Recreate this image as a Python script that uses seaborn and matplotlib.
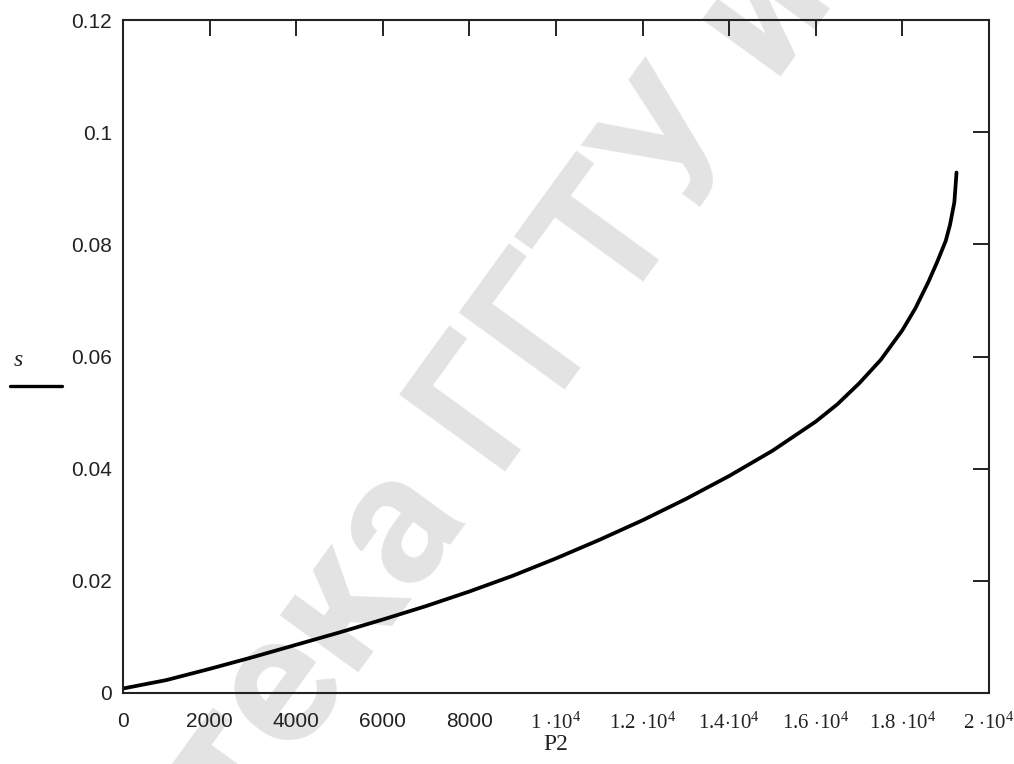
import matplotlib
matplotlib.use("Agg")
import numpy as np
import matplotlib.pyplot as plt
import seaborn as sns
import pandas as pd
from matplotlib.lines import Line2D
from matplotlib.font_manager import FontProperties

# ---- data ----
P2 = [0, 1000, 2000, 3000, 4000, 5000, 6000, 7000, 8000, 9000, 10000, 11000,
      12000, 13000, 14000, 15000, 16000, 16500, 17000, 17500, 18000, 18300,
      18600, 18800, 19000, 19100, 19200, 19250]
s = [0.0008, 0.0023, 0.0043, 0.0064, 0.0086, 0.0108, 0.0131, 0.0155, 0.0181,
     0.0209, 0.0240, 0.0273, 0.0308, 0.0346, 0.0387, 0.0432, 0.0484, 0.0515,
     0.0552, 0.0594, 0.0647, 0.0686, 0.0733, 0.0768, 0.0806, 0.0835, 0.0875,
     0.0928]
x_ticks = [0, 2000, 4000, 6000, 8000, 10000, 12000, 14000, 16000, 18000, 20000]
x_ticklabels = ["0", "2000", "4000", "6000", "8000",
                r"1 $\cdot$10$^{4}$", r"1.2 $\cdot$10$^{4}$", r"1.4$\cdot$10$^{4}$",
                r"1.6 $\cdot$10$^{4}$", r"1.8 $\cdot$10$^{4}$", r"2 $\cdot$10$^{4}$"]
y_ticks = [0, 0.02, 0.04, 0.06, 0.08, 0.1, 0.12]
y_ticklabels = ["0", "0.02", "0.04", "0.06", "0.08", "0.1", "0.12"]
x_label = "P2"
y_label = "s"
wm_left = "Библиотека"
wm_mid = "ГГТУ"
wm_right = "им. П.О. Сухого"

df = pd.DataFrame({"P2": P2, "s": s})

sns.set_theme(style="white")
plt.rcParams["mathtext.fontset"] = "custom"
plt.rcParams["mathtext.rm"] = "Liberation Serif"
plt.rcParams["mathtext.it"] = "Liberation Serif:italic"

W, H = 1014, 764
fig = plt.figure(figsize=(W / 100, H / 100), dpi=100)
ax = fig.add_axes([123 / W, 1 - 693 / H, 866 / W, 673 / H])
ax.set_facecolor("none")

# ---- watermark (light grey, diagonal, behind the plot) ----
wm_fam = ["Roboto", "DejaVu Sans"]
wm_size = 132
wm_kw = dict(fontsize=wm_size, fontweight="bold", family=wm_fam, color="#e3e3e3",
             rotation=54, rotation_mode="anchor", va="baseline", zorder=-10)
renderer = fig.canvas.get_renderer()
tmp = fig.text(0, 0, wm_mid, fontsize=wm_size, fontweight="bold", family=wm_fam)
w_mid = tmp.get_window_extent(renderer).width
tmp.remove()
w_sp = 0.25 * wm_size * 100 / 72
th = np.deg2rad(54)
u = np.array([np.cos(th), -np.sin(th)])      # along baseline (pixel coords, y down)
d = np.array([np.sin(th), np.cos(th)])       # letter "down" direction
cap = 0.71 * wm_size * 100 / 72
base = np.array([568.0, 258.0]) + d * cap / 2
def to_fig(p):
    return p[0] / W, 1 - p[1] / H
fig.text(*to_fig(base), wm_mid, ha="center", **wm_kw)
fig.text(*to_fig(base - u * (w_mid / 2 + w_sp)), wm_left, ha="right", **wm_kw)
fig.text(*to_fig(base + u * (w_mid / 2 + w_sp)), wm_right, ha="left", **wm_kw)

# ---- curve ----
sns.lineplot(data=df, x="P2", y="s", ax=ax, color="black", linewidth=2.7,
             estimator=None, sort=False)

ax.set_xlim(0, 20000)
ax.set_ylim(0, 0.12)
ax.set_xticks(x_ticks)
ax.set_yticks(y_ticks)

sans = FontProperties(family="Liberation Sans", size=15)
serif = FontProperties(family="Liberation Serif", size=15)
ax.set_xticklabels(x_ticklabels)
for lbl, txt in zip(ax.get_xticklabels(), x_ticklabels):
    lbl.set_fontproperties(serif if "$" in txt else sans)
ax.set_yticklabels(y_ticklabels)
for lbl in ax.get_yticklabels():
    lbl.set_fontproperties(sans)

ax.tick_params(axis="both", direction="in", length=11.5, width=1.4, color="#222222",
               top=True, right=True, labelcolor="#222222")
ax.tick_params(axis="x", pad=14)
ax.tick_params(axis="y", pad=8)
for sp in ax.spines.values():
    sp.set_visible(True)
    sp.set_color("#222222")
    sp.set_linewidth(1.5)

ax.set_xlabel(x_label, fontproperties=FontProperties(family="Liberation Serif", size=17),
              labelpad=0, color="#222222")
ax.set_ylabel("")

# Mathcad-style trace label: name above a short line sample
fig.text(18 / W, 1 - 361 / H, y_label, ha="center", va="center",
         family="Liberation Serif", style="italic", fontsize=17, color="#222222")
fig.add_artist(Line2D([10 / W, 62 / W], [1 - 386 / H, 1 - 386 / H],
                      transform=fig.transFigure, color="black", linewidth=2.4))

fig.savefig("out.png", dpi=100)
